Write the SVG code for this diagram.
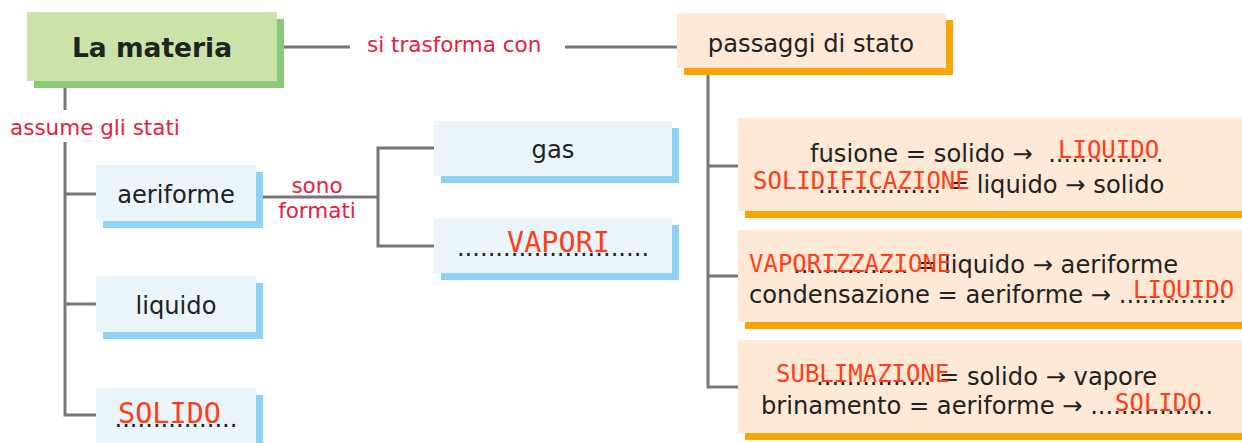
<svg xmlns="http://www.w3.org/2000/svg" width="1242" height="443" viewBox="0 0 1242 443">
<style>
.ln{fill:none;stroke:#767676;stroke-width:3}
.lbl{font-family:"DejaVu Sans",Verdana,sans-serif;font-size:21.5px;fill:#e2223e}
.t{font-family:"DejaVu Sans",Verdana,sans-serif;font-size:24.2px;fill:#222}
.tb{font-family:"DejaVu Sans",Verdana,sans-serif;font-size:26.5px;font-weight:bold;fill:#222}
.r{font-family:"DejaVu Sans Mono","Liberation Mono",monospace;font-size:24px;fill:#ff3d17}
.rb{font-family:"DejaVu Sans Mono","Liberation Mono",monospace;font-size:28.5px;fill:#ff3d17}
.gF{fill:#cbe2a9}.gS{fill:#8cc87a}
.bF{fill:#eaf5fb}.bS{fill:#8fd4f7}
.oF{fill:#fee9d6}.oS{fill:#f9a602}
</style>
<rect width="1242" height="443" fill="#ffffff"/>
<g id="connectors">
<path class="ln" d="M277,47 H350 M565,47 H677"/>
<path class="ln" d="M65,88 V110 M65,142 V415 H96 M65,194 H96 M65,304 H96"/>
<path class="ln" d="M256,197 H378 M434,148 H378 V246 H434"/>
<path class="ln" d="M708,75 V387 H738 M708,166 H738 M708,276 H738"/>
<text class="lbl" x="367" y="52">si trasforma con</text>
<text class="lbl" x="10" y="135">assume gli stati</text>
<text class="lbl" x="317" y="193" text-anchor="middle">sono</text>
<text class="lbl" x="317" y="218" text-anchor="middle">formati</text>
</g>
<g id="la-materia">
<rect class="gS" x="34" y="19" width="250" height="69"/>
<rect class="gF" x="27" y="12" width="250" height="69"/>
<text class="tb" x="152" y="57" text-anchor="middle">La materia</text>
</g>
<g id="passaggi">
<rect class="oS" x="684" y="20" width="269" height="55"/>
<rect class="oF" x="677" y="13" width="269" height="55"/>
<text class="t" x="811" y="52" text-anchor="middle">passaggi di stato</text>
</g>
<g id="aeriforme">
<rect class="bS" x="103" y="172" width="160" height="56"/>
<rect class="bF" x="96" y="165" width="160" height="56"/>
<text class="t" x="176" y="203" text-anchor="middle">aeriforme</text>
</g>
<g id="liquido">
<rect class="bS" x="103" y="283" width="160" height="56"/>
<rect class="bF" x="96" y="276" width="160" height="56"/>
<text class="t" x="176" y="314" text-anchor="middle">liquido</text>
</g>
<g id="solido">
<rect class="bS" x="103" y="395" width="160" height="56"/>
<rect class="bF" x="96" y="388" width="160" height="56"/>
<text class="t" x="176" y="427" text-anchor="middle">................</text>
<text class="rb" x="118" y="423">SOLIDO</text>
</g>
<g id="gas">
<rect class="bS" x="441" y="128" width="238" height="55"/>
<rect class="bF" x="434" y="121" width="238" height="55"/>
<text class="t" x="553" y="158" text-anchor="middle">gas</text>
</g>
<g id="vapori">
<rect class="bS" x="441" y="225" width="238" height="55"/>
<rect class="bF" x="434" y="218" width="238" height="55"/>
<text class="t" x="553" y="256" text-anchor="middle">.........................</text>
<text class="rb" x="507" y="252">VAPORI</text>
</g>
<g id="fusione-solidificazione">
<rect class="oS" x="745" y="125" width="497" height="93"/>
<rect class="oF" x="738" y="118" width="504" height="93"/>
<text class="t" x="810" y="162">fusione = solido →&#160; ............. .</text>
<text class="t" x="818" y="193">................ = liquido → solido</text>
<text class="r" x="1058" y="158">LIQUIDO</text>
<text class="r" x="753" y="189">SOLIDIFICAZIONE</text>
</g>
<g id="vaporizzazione-condensazione">
<rect class="oS" x="745" y="237" width="497" height="92"/>
<rect class="oF" x="738" y="230" width="504" height="92"/>
<text class="t" x="793" y="273">............... = liquido → aeriforme</text>
<text class="t" x="749" y="303">condensazione = aeriforme → ..............</text>
<text class="r" x="749" y="272">VAPORIZZAZIONE</text>
<text class="r" x="1133" y="298">LIQUIDO</text>
</g>
<g id="sublimazione-brinamento">
<rect class="oS" x="745" y="347" width="497" height="93"/>
<rect class="oF" x="738" y="340" width="504" height="93"/>
<text class="t" x="816" y="385">............... = solido → vapore</text>
<text class="t" x="761" y="414">brinamento = aeriforme → ................</text>
<text class="r" x="776" y="382">SUBLIMAZIONE</text>
<text class="r" x="1115" y="411">SOLIDO</text>
</g>
</svg>
